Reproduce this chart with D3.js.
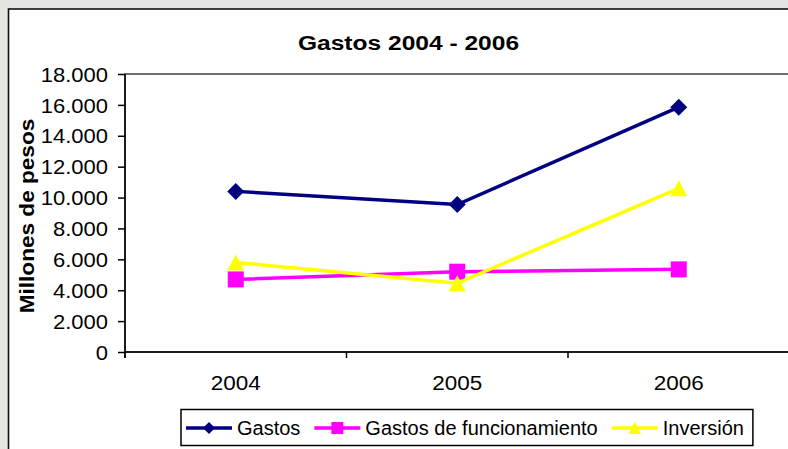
<!DOCTYPE html>
<html>
<head>
<meta charset="utf-8">
<script src="https://cdn.jsdelivr.net/npm/d3@7"></script>
<style>
  body { margin: 0; background: #e4e7e1; }
  svg { display: block; }
  text { font-family: "Liberation Sans", Arial, sans-serif; fill: #000; }
  .axis path, .axis line { stroke: #000; stroke-width: 1.5; }
</style>
</head>
<body>
<div id="chart"></div>
<script>
// data (millones de pesos)
var years = ["2004", "2005", "2006"];
var gastos = [10400, 9550, 15850];
var funcionamiento = [4700, 5200, 5350];
var inversion = [5800, 4450, 10600];
var yTicks = [0, 2000, 4000, 6000, 8000, 10000, 12000, 14000, 16000, 18000];

var series = [
    {name: "Gastos", values: gastos, color: "#000080", shape: "diamond"},
    {name: "Gastos de funcionamiento", values: funcionamiento, color: "#ff00ff", shape: "square"},
    {name: "Inversión", values: inversion, color: "#ffff00", shape: "triangle"}
];

var svgWidth = 788, svgHeight = 449;
var plot = {left: 125, top: 74, bandW: 221.5, height: 278};

var svg = d3.select("#chart").append("svg")
    .attr("width", svgWidth)
    .attr("height", svgHeight);

// faded backdrop and chart area
svg.append("rect").attr("width", svgWidth).attr("height", svgHeight).attr("fill", "#e4e7e1");
svg.append("rect")
    .attr("x", 8.5).attr("y", 9)
    .attr("width", svgWidth + 20).attr("height", svgHeight + 20)
    .attr("fill", "#fff").attr("stroke", "#111").attr("stroke-width", 1.6);

var locale = d3.formatLocale({decimal: ",", thousands: ".", grouping: [3], currency: ["$", ""]});
var fmt = locale.format(",.0f");

// scales
var x = d3.scaleBand()
    .domain(years)
    .range([plot.left, plot.left + plot.bandW * years.length]);

var y = d3.scaleLinear()
    .domain([0, 18000])
    .range([plot.top + plot.height, plot.top]);

// plot area
svg.append("rect")
    .attr("x", plot.left).attr("y", plot.top)
    .attr("width", plot.bandW * years.length).attr("height", plot.height)
    .attr("fill", "#fff").attr("stroke", "#333").attr("stroke-width", 1.4);

// y axis
var gy = svg.append("g")
    .attr("class", "axis")
    .attr("transform", "translate(" + plot.left + ",0)")
    .call(d3.axisLeft(y).tickValues(yTicks).tickFormat(fmt).tickSize(7).tickSizeOuter(0));
gy.select(".domain").remove();
gy.append("line").attr("y1", y(18000)).attr("y2", y(0) + 6).attr("stroke", "#000").attr("stroke-width", 1.5);
gy.selectAll(".tick text")
    .attr("x", null).attr("dy", "0.36em")
    .style("font-size", "20px")
    .attr("transform", "translate(-17,0) scale(1.1,1)");

// x axis, ticks between categories
var bounds = years.map(function (d) { return x(d); }).concat([x.range()[1]]);
var gx = svg.append("g")
    .attr("class", "axis")
    .attr("transform", "translate(0," + y(0) + ")");
gx.append("line").attr("x1", plot.left).attr("x2", x.range()[1]).attr("stroke", "#000").attr("stroke-width", 1.5);
gx.selectAll(".tk").data(bounds).join("line")
    .attr("class", "tk")
    .attr("x1", d => d).attr("x2", d => d)
    .attr("y1", 0).attr("y2", 6)
    .attr("stroke", "#000").attr("stroke-width", 1.5);
gx.selectAll(".lbl").data(years).join("text")
    .attr("class", "lbl")
    .attr("text-anchor", "middle")
    .attr("transform", d => "translate(" + (x(d) + x.bandwidth() / 2) + ",38) scale(1.07,1)")
    .style("font-size", "21px")
    .text(d => d);

// title and axis label
svg.append("text")
    .attr("text-anchor", "middle")
    .attr("transform", "translate(408.5,50) scale(1.17,1)")
    .style("font-size", "21px").style("font-weight", "bold")
    .text("Gastos 2004 - 2006");

svg.append("text")
    .attr("text-anchor", "middle")
    .attr("transform", "translate(34,216) rotate(-90) scale(1.13,1)")
    .style("font-size", "20px").style("font-weight", "bold")
    .text("Millones de pesos");

// marker shapes, centred on their box like the spreadsheet ones
var shapes = {
    diamond: {draw: function (ctx, size) {
        var r = Math.sqrt(size) / 2;
        ctx.moveTo(0, -r); ctx.lineTo(r, 0); ctx.lineTo(0, r); ctx.lineTo(-r, 0); ctx.closePath();
    }},
    square: {draw: function (ctx, size) {
        var r = Math.sqrt(size) / 2;
        ctx.rect(-r, -r, 2 * r, 2 * r);
    }},
    triangle: {draw: function (ctx, size) {
        var r = Math.sqrt(size) / 2;
        ctx.moveTo(0, -r); ctx.lineTo(r * 1.06, r); ctx.lineTo(-r * 1.06, r); ctx.closePath();
    }}
};
var markerSize = {diamond: 17 * 17, square: 16 * 16, triangle: 16 * 16};

var line = d3.line()
    .x((d, i) => x(years[i]) + x.bandwidth() / 2)
    .y(d => y(d));

series.forEach(function (s) {
    var g = svg.append("g");
    g.append("path")
        .datum(s.values)
        .attr("fill", "none")
        .attr("stroke", s.color)
        .attr("stroke-width", 3.5)
        .attr("d", line);
    g.selectAll("path.mk").data(s.values).join("path")
        .attr("class", "mk")
        .attr("transform", (d, i) => "translate(" + (x(years[i]) + x.bandwidth() / 2) + "," + y(d) + ")")
        .attr("fill", s.color)
        .attr("d", d3.symbol(shapes[s.shape], markerSize[s.shape]));
});

// legend
var legend = svg.append("g");
var box = legend.append("rect")
    .attr("fill", "#fff").attr("stroke", "#000").attr("stroke-width", 1.5);
var lx = 186, ly = 428;
series.forEach(function (s) {
    legend.append("line")
        .attr("x1", lx).attr("x2", lx + 46).attr("y1", ly).attr("y2", ly)
        .attr("stroke", s.color).attr("stroke-width", 3.5);
    legend.append("path")
        .attr("transform", "translate(" + (lx + 23) + "," + ly + ")")
        .attr("fill", s.color)
        .attr("d", d3.symbol(shapes[s.shape], 12 * 12));
    var t = legend.append("text")
        .attr("x", lx + 51).attr("y", ly + 7)
        .style("font-size", "20px")
        .text(s.name);
    lx += 51 + t.node().getComputedTextLength() + 14;
});
box.attr("x", 181).attr("y", 409.5).attr("width", lx - 14 + 9 - 181).attr("height", 36);
</script>
</body>
</html>
